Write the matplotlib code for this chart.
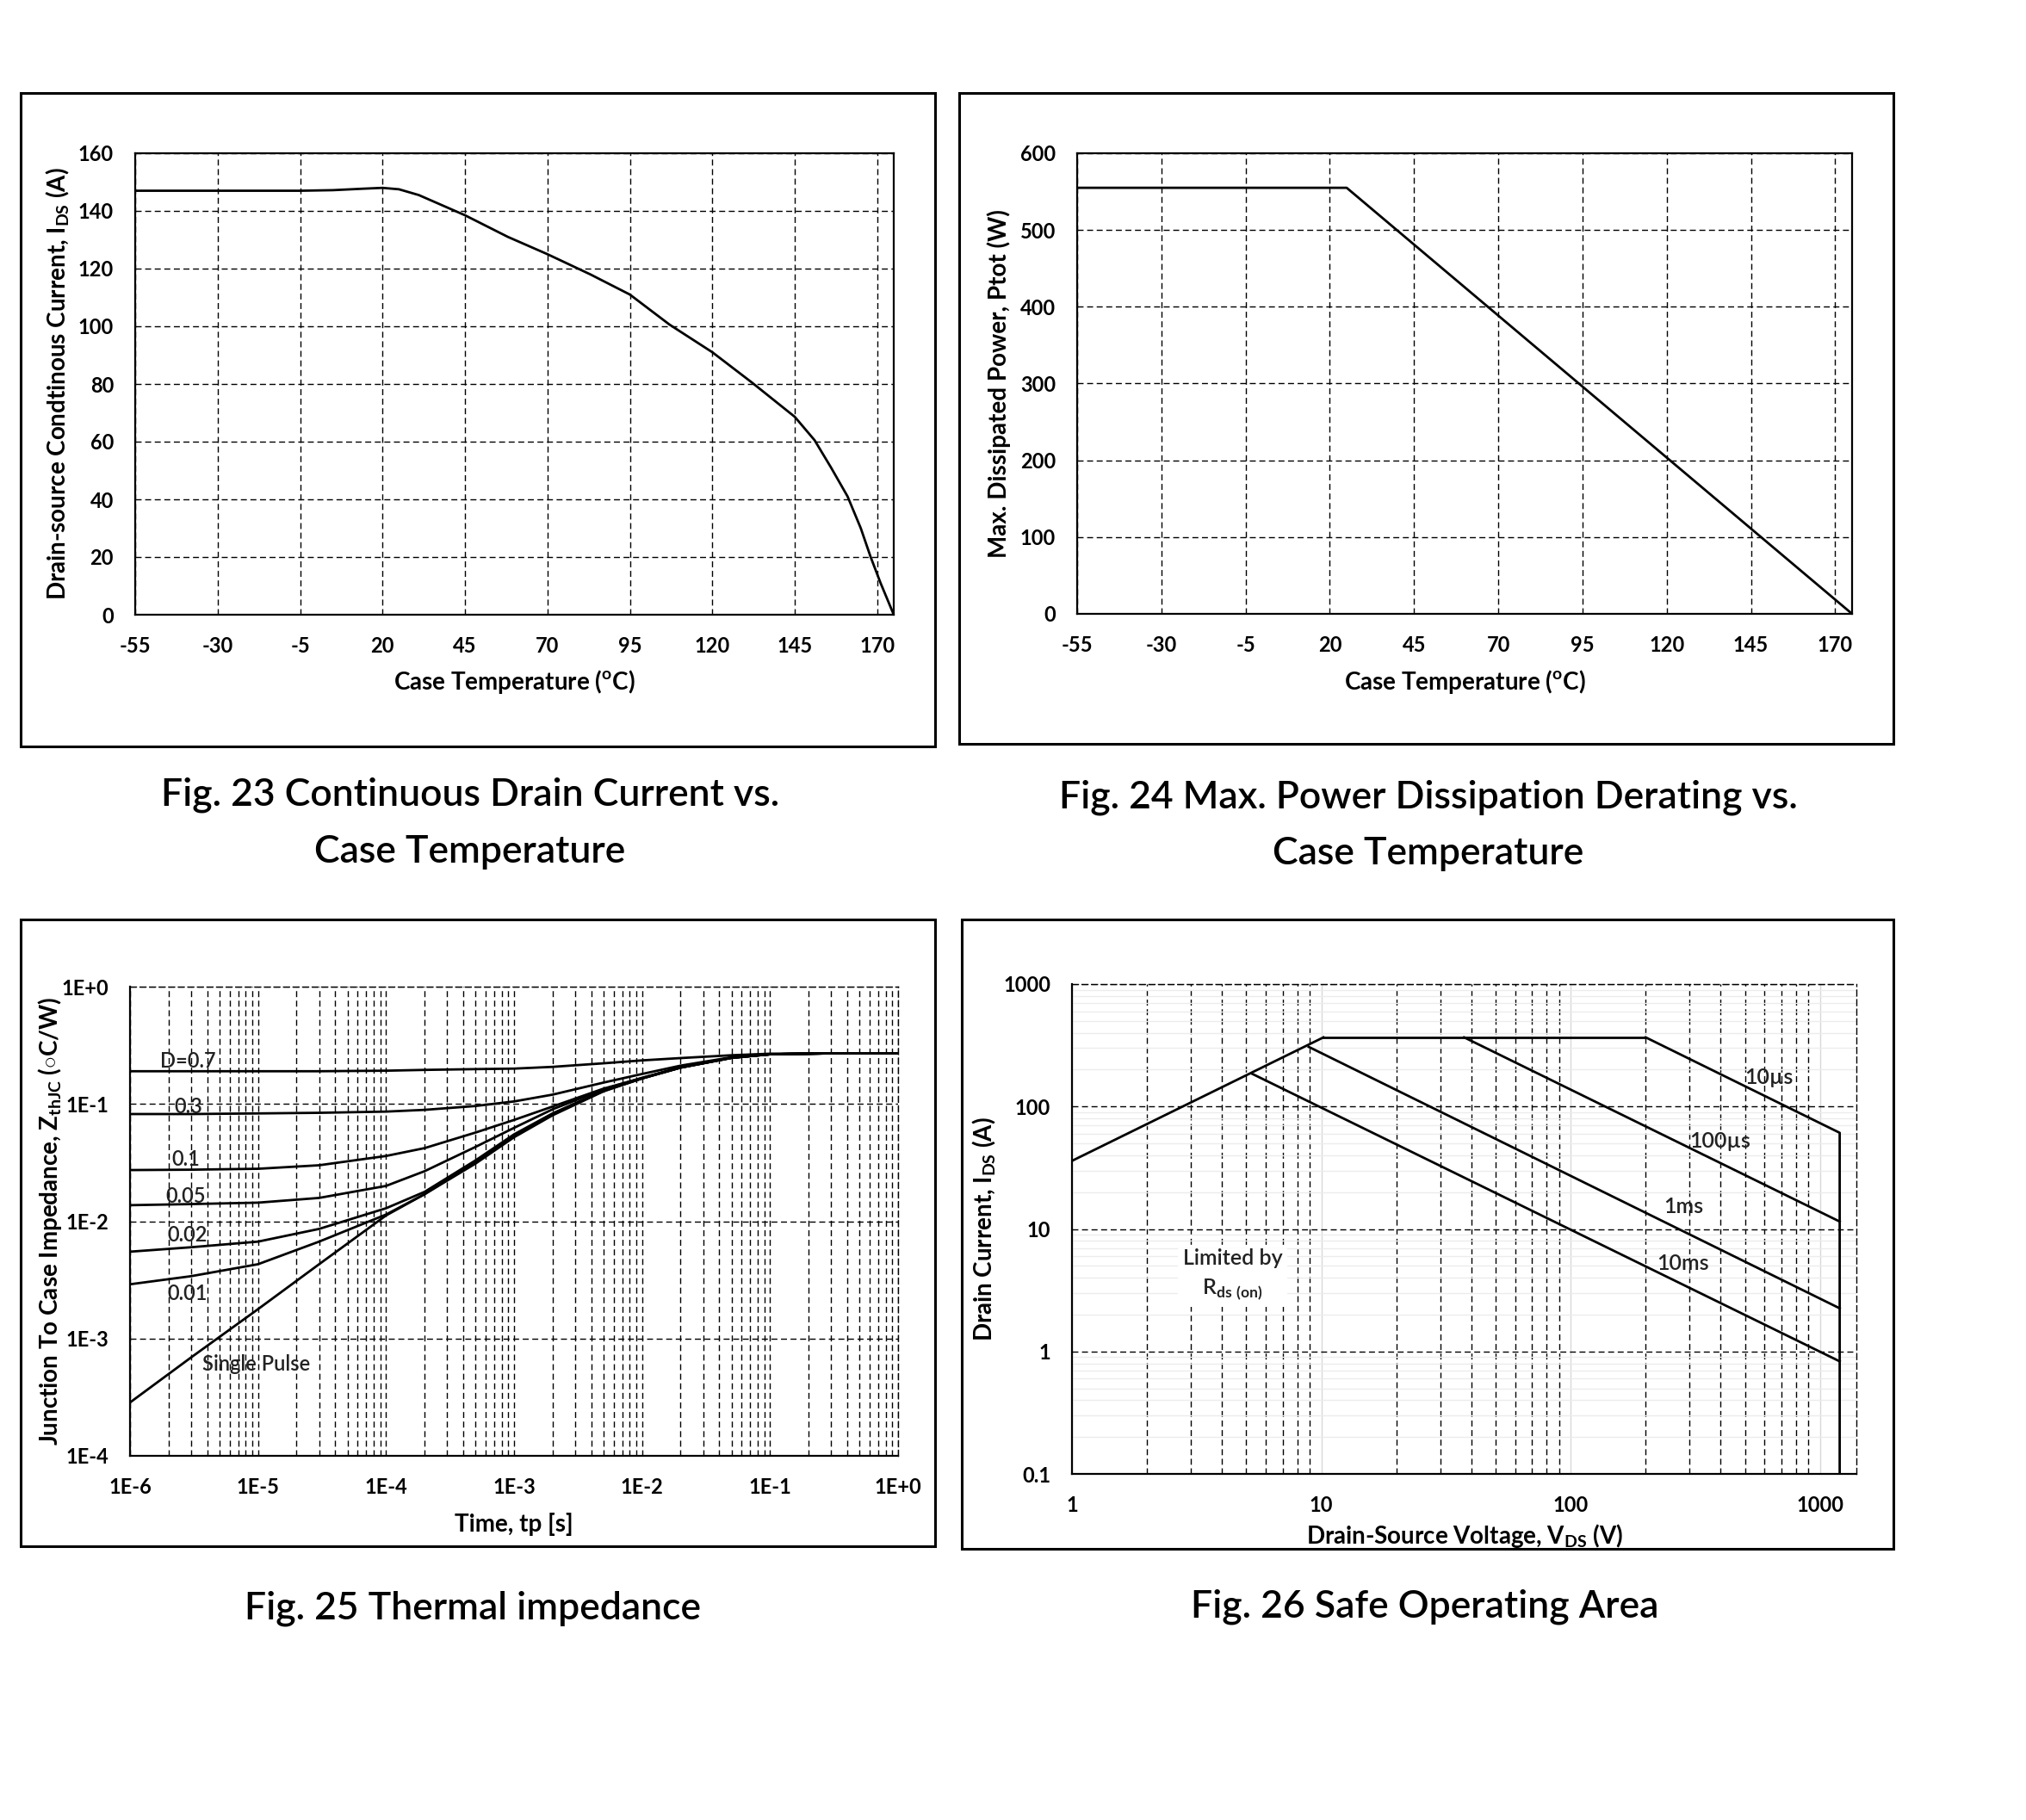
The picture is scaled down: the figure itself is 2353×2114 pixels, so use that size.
import numpy as np
import matplotlib
matplotlib.use("Agg")
import matplotlib.pyplot as plt
from matplotlib.patches import Rectangle
from matplotlib.ticker import LogLocator, NullFormatter

plt.rcParams['font.family'] = ['Lato', 'DejaVu Sans']
plt.rcParams['mathtext.fontset'] = 'custom'
plt.rcParams['mathtext.rm'] = 'Lato'
plt.rcParams['mathtext.bf'] = 'Lato:bold'
plt.rcParams['axes.unicode_minus'] = False

# ---- data ----

# Fig. 23: continuous drain current vs case temperature
temp_ticks = [-55, -30, -5, 20, 45, 70, 95, 120, 145, 170]
t_ids = [-55, -30, -5, 5, 14, 20, 25, 31, 38, 45, 58, 70, 83, 95, 107, 120,
         132, 145, 151, 156, 161, 165, 168, 171, 175]
ids = [147, 147, 147, 147.2, 147.7, 148, 147.5, 145.5, 142, 138.5, 131, 125,
       118, 111, 100.6, 91, 80.5, 68.6, 60.5, 51, 41, 30, 20, 11, 0]

# Fig. 24: max power dissipation derating
t_ptot = [-55, 25, 175]
ptot = [555, 555, 0]

# Fig. 25: thermal impedance
tp = [1e-6, 3e-6, 1e-5, 3e-5, 1e-4, 2e-4, 5e-4, 1e-3, 2e-3, 5e-3, 1e-2,
      2e-2, 5e-2, 1e-1, 3e-1, 1e0]
zth = {
    'D=0.7': [0.19, 0.19, 0.19, 0.19, 0.192, 0.195, 0.198, 0.2, 0.207, 0.222,
              0.235, 0.246, 0.26, 0.268, 0.27, 0.27],
    '0.3': [0.082, 0.082, 0.083, 0.084, 0.086, 0.089, 0.096, 0.105, 0.12,
            0.152, 0.18, 0.212, 0.25, 0.265, 0.27, 0.27],
    '0.1': [0.0273, 0.0275, 0.028, 0.030, 0.036, 0.042, 0.057, 0.073, 0.095,
            0.135, 0.166, 0.205, 0.248, 0.265, 0.27, 0.27],
    '0.05': [0.0137, 0.014, 0.0144, 0.0158, 0.020, 0.0267, 0.043, 0.0625,
             0.09, 0.133, 0.167, 0.205, 0.248, 0.265, 0.27, 0.27],
    '0.02': [0.0055, 0.006, 0.0067, 0.0086, 0.0129, 0.0178, 0.033, 0.055,
             0.083, 0.13, 0.165, 0.204, 0.247, 0.265, 0.27, 0.27],
    '0.01': [0.0029, 0.0034, 0.0043, 0.0067, 0.0114, 0.017, 0.032, 0.054,
             0.082, 0.129, 0.165, 0.204, 0.247, 0.265, 0.27, 0.27],
    'Single Pulse': [2.85e-4, 6.9e-4, 1.78e-3, 4.3e-3, 0.0112, 0.017, 0.031,
                     0.052, 0.08, 0.128, 0.165, 0.204, 0.247, 0.265, 0.27, 0.27],
}
zth_label_pos = {
    'D=0.7': (1.72e-6, 0.23), '0.3': (2.2e-6, 0.095), '0.1': (2.1e-6, 0.0335),
    '0.05': (1.9e-6, 0.0162), '0.02': (1.95e-6, 0.0076), '0.01': (1.95e-6, 0.0024),
    'Single Pulse': (3.7e-6, 6.0e-4),
}
tp_ticks = [1e-6, 1e-5, 1e-4, 1e-3, 1e-2, 1e-1, 1e0]
tp_labels = ['1E-6', '1E-5', '1E-4', '1E-3', '1E-2', '1E-1', '1E+0']
z_ticks = [1e-4, 1e-3, 1e-2, 1e-1, 1e0]
z_labels = ['1E-4', '1E-3', '1E-2', '1E-1', '1E+0']

# Fig. 26: safe operating area
rds_v, rds_i = [1, 10.2], [36, 367]
top_v, top_i = [10.2, 200], [367, 367]
soa = {
    '10\u00b5s': ([200, 1200, 1200], [367, 61, 0.1]),
    '100\u00b5s': ([37.4, 1200], [367, 11.5]),
    '1ms': ([8.9, 1200], [307, 2.25]),
    '10ms': ([5.25, 1200], [186, 0.83]),
}
soa_label_pos = {'10\u00b5s': (500, 172), '100\u00b5s': (300, 52),
                 '1ms': (237, 15.2), '10ms': (221, 5.2)}
vds_ticks = [1, 10, 100, 1000]
vds_labels = ['1', '10', '100', '1000']
id_ticks = [0.1, 1, 10, 100, 1000]
id_labels = ['0.1', '1', '10', '100', '1000']

# ---- layout ----
W, H = 2353, 2114
DASH = (0, (5, 3))


def box(x0, y0, x1, y1):
    return [x0 / W, 1 - y1 / H, (x1 - x0) / W, (y1 - y0) / H]


def frame(fig, x0, y0, x1, y1):
    fig.patches.append(Rectangle((x0 / W, 1 - y1 / H), (x1 - x0) / W, (y1 - y0) / H,
                                 transform=fig.transFigure, fill=False,
                                 edgecolor='k', lw=2.2))


def style(a, pad=18):
    for s in a.spines.values():
        s.set_linewidth(1.6)
        s.set_zorder(3)
    a.tick_params(which='both', length=0, labelsize=17, pad=pad)
    plt.setp(a.get_xticklabels() + a.get_yticklabels(), fontweight='bold')


def labels(a, xl, yl, xy, yx):
    a.text(0.5, xy, xl, transform=a.transAxes, ha='center', va='center',
           fontsize=20, fontweight='bold')
    a.text(yx, 0.5, yl, transform=a.transAxes, ha='center', va='center',
           fontsize=20, fontweight='bold', rotation=90)


fig = plt.figure(figsize=(W / 100, H / 100), dpi=100)

frame(fig, 24, 108, 1086, 867)
frame(fig, 1114, 108, 2199, 864)
frame(fig, 24, 1068, 1086, 1796)
frame(fig, 1117, 1068, 2199, 1799)

# Fig. 23
ax1 = fig.add_axes(box(157, 178, 1038, 714))
ax1.plot(t_ids, ids, color='k', lw=2)
ax1.set_xlim(-55, 175)
ax1.set_ylim(0, 160)
ax1.set_xticks(temp_ticks)
ax1.set_yticks(range(0, 161, 20))
ax1.grid(True, color='k', ls=DASH, lw=1)
style(ax1)
labels(ax1, 'Case Temperature ($^{\\mathbf{o}}$C)',
       'Drain-source Condtinous Current, I$_{\\mathbf{DS}}$ (A)', -0.146, -0.102)

# Fig. 24
ax2 = fig.add_axes(box(1251, 178, 2151, 713))
ax2.plot(t_ptot, ptot, color='k', lw=2)
ax2.set_xlim(-55, 175)
ax2.set_ylim(0, 600)
ax2.set_xticks(temp_ticks)
ax2.set_yticks(range(0, 601, 100))
ax2.grid(True, color='k', ls=DASH, lw=1)
style(ax2)
labels(ax2, 'Case Temperature ($^{\\mathbf{o}}$C)',
       'Max. Dissipated Power, Ptot (W)', -0.147, -0.101)

# Fig. 25
ax3 = fig.add_axes(box(151, 1146, 1043, 1691))
for name, z in zth.items():
    ax3.plot(tp, z, color='k', lw=2)
    lx, ly = zth_label_pos[name]
    ax3.text(lx, ly, name, fontsize=17, fontweight='semibold', color='#222222',
             va='center', ha='left')
ax3.set_xscale('log')
ax3.set_yscale('log')
ax3.set_xlim(1e-6, 1)
ax3.set_ylim(1e-4, 1)
ax3.set_xticks(tp_ticks, labels=tp_labels)
ax3.set_yticks(z_ticks, labels=z_labels)
ax3.xaxis.set_minor_locator(LogLocator(base=10, subs=range(2, 10), numticks=20))
ax3.xaxis.set_minor_formatter(NullFormatter())
ax3.yaxis.set_minor_formatter(NullFormatter())
ax3.grid(True, which='both', axis='x', color='k', ls=DASH, lw=1)
ax3.grid(True, which='major', axis='y', color='k', ls=DASH, lw=1)
style(ax3)
for s in ['top', 'right']:
    ax3.spines[s].set_linestyle(DASH)
    ax3.spines[s].set_linewidth(1)
labels(ax3, 'Time, tp [s]',
       'Junction To Case Impedance, Z$_{\\mathbf{thJC}}$ ($\\circ$C/W)', -0.146, -0.104)

# Fig. 26
ax4 = fig.add_axes(box(1245, 1143, 2156, 1712))
ax4.plot(rds_v, rds_i, color='k', lw=2)
ax4.plot(top_v, top_i, color='k', lw=2)
for name, (v, i) in soa.items():
    ax4.plot(v, i, color='k', lw=2)
    lx, ly = soa_label_pos[name]
    ax4.text(lx, ly, name, fontsize=18, fontweight='semibold', color='#222222',
             va='center', ha='left')
ax4.text(4.4, 4.2, 'Limited by\nR$_{\\mathbf{ds\\ (on)}}$', fontsize=18,
         fontweight='semibold', color='#222222',
         ha='center', va='center', linespacing=1.5, zorder=4,
         bbox=dict(facecolor='white', edgecolor='none', pad=4))
ax4.set_xscale('log')
ax4.set_yscale('log')
ax4.set_xlim(1, 1400)
ax4.set_ylim(0.1, 1000)
ax4.set_xticks(vds_ticks, labels=vds_labels)
ax4.set_yticks(id_ticks, labels=id_labels)
ax4.xaxis.set_minor_locator(LogLocator(base=10, subs=range(2, 10), numticks=20))
ax4.yaxis.set_minor_locator(LogLocator(base=10, subs=range(2, 10), numticks=20))
ax4.xaxis.set_minor_formatter(NullFormatter())
ax4.yaxis.set_minor_formatter(NullFormatter())
ax4.grid(True, which='minor', axis='y', color='#ececec', ls='-', lw=1)
ax4.grid(True, which='major', axis='x', color='#d8d8d8', ls='-', lw=1)
ax4.grid(True, which='minor', axis='x', color='k', ls=DASH, lw=1)
ax4.grid(True, which='major', axis='y', color='k', ls=DASH, lw=1)
style(ax4)
for s in ['top', 'right']:
    ax4.spines[s].set_linestyle(DASH)
    ax4.spines[s].set_linewidth(1)
labels(ax4, 'Drain-Source Voltage, V$_{\\mathbf{DS}}$ (V)',
       'Drain Current, I$_{\\mathbf{DS}}$ (A)', -0.127, -0.112)

# captions
cap = dict(fontsize=32, fontweight='semibold', ha='center', va='center')
fig.text(546 / W, 1 - 923 / H, 'Fig. 23 Continuous Drain Current vs.', **cap)
fig.text(546 / W, 1 - 989 / H, 'Case Temperature', **cap)
fig.text(1659 / W, 1 - 926 / H, 'Fig. 24 Max. Power Dissipation Derating vs.', **cap)
fig.text(1659 / W, 1 - 992 / H, 'Case Temperature', **cap)
fig.text(549 / W, 1 - 1868 / H, 'Fig. 25 Thermal impedance', **cap)
fig.text(1655 / W, 1 - 1866 / H, 'Fig. 26 Safe Operating Area', **cap)

fig.savefig('out.png', dpi=100, facecolor='white')
